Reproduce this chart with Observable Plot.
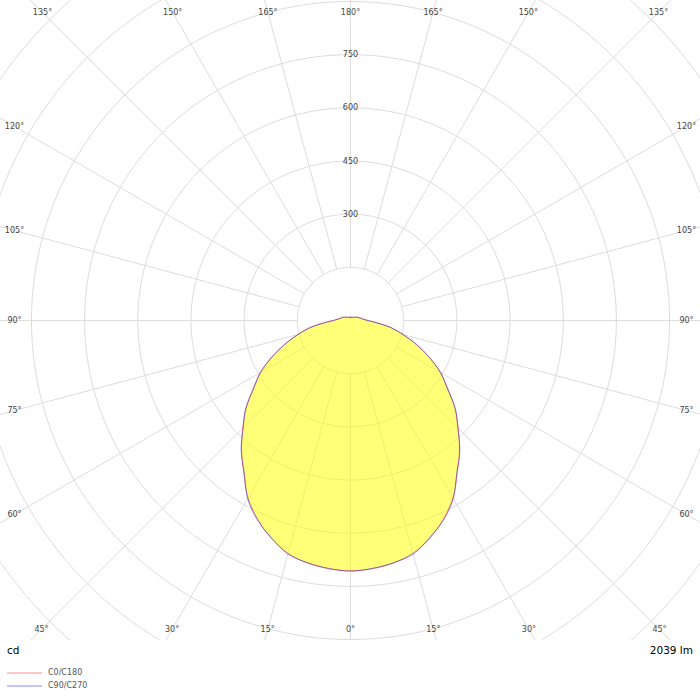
<!DOCTYPE html>
<html>
<head>
<meta charset="utf-8">
<script src="https://cdn.jsdelivr.net/npm/d3@7"></script>
<script src="https://cdn.jsdelivr.net/npm/@observablehq/plot@0.6"></script>
<style>
  html, body { margin: 0; padding: 0; background: #fff; }
  #wrap { position: relative; width: 700px; height: 700px; font-family: "DejaVu Sans", sans-serif; }
  #chart svg { display: block; overflow: hidden; }
  .foot { position: absolute; font-size: 10.5px; color: #000; line-height: 1; }
  .leg { position: absolute; left: 7px; font-size: 8px; color: #555; line-height: 1; }
  .leg span.sw { display: inline-block; width: 35px; height: 2px; vertical-align: middle; margin-right: 6px; }
</style>
</head>
<body>
<div id="wrap">
  <div id="chart"></div>
  <div class="foot" id="unit" style="left:7px; top:645px;"></div>
  <div class="foot" id="flux" style="right:7px; top:645px;"></div>
  <div id="legend"></div>
</div>
<script>
// ---- data ----
const gammaAngles = [0,5,10,15,20,25,30,35,40,45,50,55,60,65,70,75,80,85,90,95,100,105,110,115,120,125,130,135,140,145,150,155,160,165,170,175,180];
const c0c180  = [706,703,695,680,654,619,578,525,478,430,384,335,292,246,197,155,115,76,48,38,32,28,25,22,19,16,14,13,12,11,10,10,10,9,9,9,9];
const c90c270 = [707,702,694,682,652,621,580,523,480,428,386,333,294,244,199,153,117,74,50,37,31,28,24,22,19,16,14,13,12,11,10,10,9,9,9,9,9];
const seriesNames = ["C0/C180", "C90/C270"];
const seriesColors = ["#ff0000", "#0000ff"];
const legendColors = ["#ffc4c4", "#c4c4ff"];
const radialTicks = [150,300,450,600,750,900,1050,1200,1350];
const radialLabels = [300,450,600,750];
const angleTicks = [0,15,30,45,60,75,90,105,120,135,150,165,180];
const unitLabel = "cd";
const fluxLabel = "2039 lm";

// ---- geometry helpers ----
const W = 700, H = 640;
const k = 0.3545;               // px per cd
const xMax = (W / 2) / k, yMax = (H / 2) / k;
const rad = d => d * Math.PI / 180;

function curve(values) {
  const pts = [];
  for (let i = gammaAngles.length - 1; i >= 0; i--) {
    const g = rad(gammaAngles[i]);
    pts.push({x: -values[i] * Math.sin(g), y: -values[i] * Math.cos(g)});
  }
  for (let i = 1; i < gammaAngles.length; i++) {
    const g = rad(gammaAngles[i]);
    pts.push({x: values[i] * Math.sin(g), y: -values[i] * Math.cos(g)});
  }
  return pts;
}
const curve0 = curve(c0c180);
const curve90 = curve(c90c270);

const circles = [];
for (const r of radialTicks) {
  for (let d = 0; d <= 360; d += 2) circles.push({r, x: r * Math.sin(rad(d)), y: r * Math.cos(rad(d))});
}

const spokes = [];
for (const a of angleTicks) {
  for (const s of (a === 0 || a === 180) ? [1] : [-1, 1]) {
    const g = rad(a);
    spokes.push({
      x1: s * radialTicks[0] * Math.sin(g), y1: -radialTicks[0] * Math.cos(g),
      x2: s * 2000 * Math.sin(g), y2: -2000 * Math.cos(g)
    });
  }
}

const angleLabelPts = [];
const bx = 336 / k, byTop = 308 / k, byBot = 309 / k;
for (const a of angleTicks) {
  for (const s of (a === 0 || a === 180) ? [1] : [-1, 1]) {
    const g = rad(a);
    const dx = s * Math.sin(g), dy = -Math.cos(g);
    const by = dy > 0 ? byTop : byBot;
    const t = Math.min(Math.abs(dx) > 1e-9 ? bx / Math.abs(dx) : Infinity, Math.abs(dy) > 1e-9 ? by / Math.abs(dy) : Infinity);
    angleLabelPts.push({x: dx * t, y: dy * t, label: a + "°"});
  }
}

const plot = Plot.plot({
  width: W, height: H, margin: 0,
  x: {domain: [-xMax, xMax], axis: null},
  y: {domain: [-yMax, yMax], axis: null},
  style: {fontFamily: "DejaVu Sans, sans-serif", fontSize: "8px", background: "#fff", overflow: "hidden"},
  marks: [
    Plot.line(circles, {x: "x", y: "y", z: "r", stroke: "#dcdcdc", strokeWidth: 1, curve: "linear", clip: true}),
    Plot.link(spokes, {x1: "x1", y1: "y1", x2: "x2", y2: "y2", stroke: "#dcdcdc", strokeWidth: 1, clip: true}),
    Plot.line(curve0, {x: "x", y: "y", fill: "#ffff00", fillOpacity: 0.53, stroke: "none", curve: "catmull-rom"}),
    Plot.line(curve0, {x: "x", y: "y", stroke: seriesColors[0], strokeOpacity: 0.45, strokeWidth: 1, curve: "catmull-rom"}),
    Plot.line(curve90, {x: "x", y: "y", stroke: seriesColors[1], strokeOpacity: 0.45, strokeWidth: 1, curve: "catmull-rom"}),
    Plot.text(radialLabels, {x: () => 0, y: d => d, text: d => String(d), fill: "#444", textAnchor: "middle", lineAnchor: "middle"}),
    Plot.text(angleLabelPts, {x: "x", y: "y", text: "label", fill: "#444", textAnchor: "middle", lineAnchor: "middle"})
  ]
});
document.getElementById("chart").appendChild(plot);
document.getElementById("unit").textContent = unitLabel;
document.getElementById("flux").textContent = fluxLabel;

const legend = document.getElementById("legend");
seriesNames.forEach((name, i) => {
  const row = document.createElement("div");
  row.className = "leg";
  row.style.top = (669 + i * 13) + "px";
  const sw = document.createElement("span");
  sw.className = "sw";
  sw.style.background = legendColors[i];
  row.appendChild(sw);
  row.appendChild(document.createTextNode(name));
  legend.appendChild(row);
});
</script>
</body>
</html>
